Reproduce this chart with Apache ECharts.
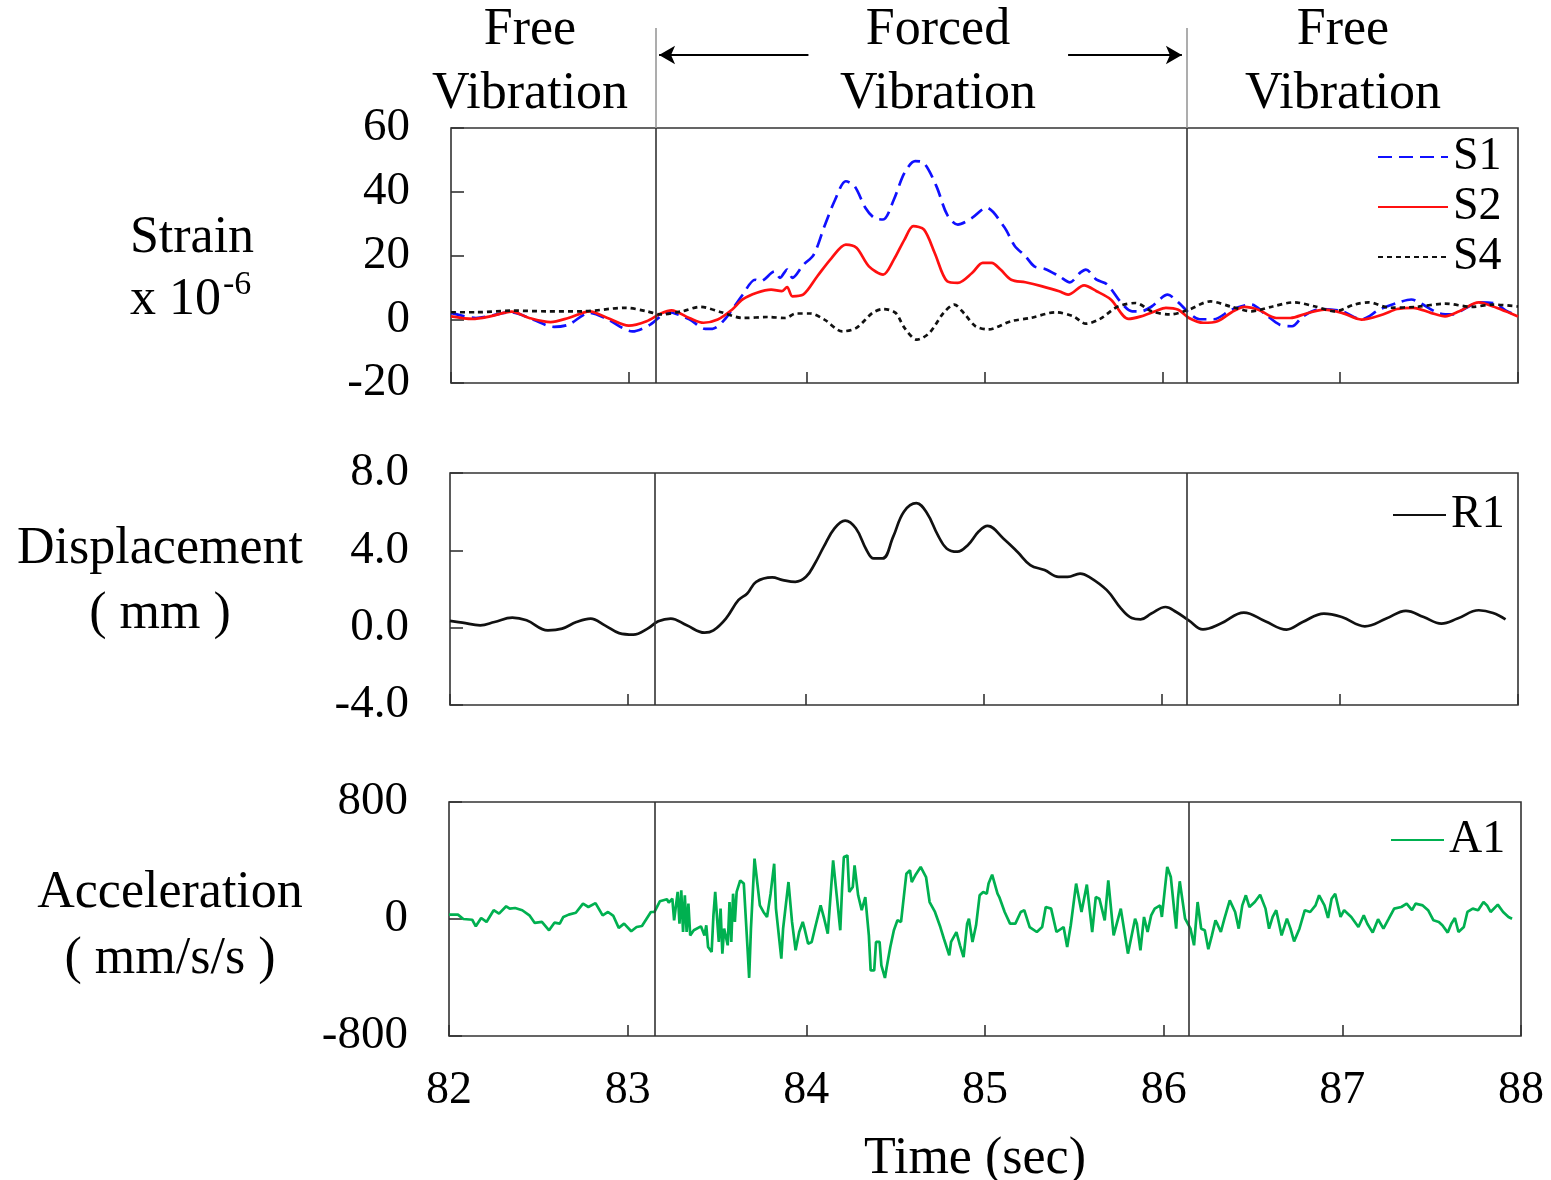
<!DOCTYPE html>
<html>
<head>
<meta charset="utf-8">
<script src="https://cdn.jsdelivr.net/npm/echarts@6/dist/echarts.min.js"></script>
<style>html,body{margin:0;padding:0;background:#fff}#c{width:1551px;height:1180px}</style>
</head>
<body>
<div id="c"></div>
<script>
// ---- data (time in sec, value) ----
const timeTicks = [82, 83, 84, 85, 86, 87, 88];
const boundaries = [83.15, 86.14];          // start / end of forced vibration
const arrowLeft = [84.01, 83.17];           // arrow from -> to (time)
const arrowRight = [85.47, 86.11];

const s1 = [[82.00,2.0],[82.14,0.4],[82.34,2.2],[82.46,-0.1],[82.58,-2.4],[82.66,-1.7],[82.78,2.0],[82.88,0],[83.02,-3.8],[83.12,-1.7],[83.22,2.2],[83.34,0],[83.43,-3.0],[83.47,-3.0],[83.54,0],[83.64,7.7],[83.71,12.4],[83.74,11.9],[83.82,15],[83.85,13],[83.89,15.6],[83.92,13],[83.98,17],[84.04,20.3],[84.10,29.2],[84.16,37.5],[84.22,43.3],[84.27,41.7],[84.33,35],[84.38,31.8],[84.43,31.3],[84.49,37.5],[84.55,45.9],[84.61,49.6],[84.66,49],[84.73,41.7],[84.79,32.8],[84.85,29.7],[84.93,31.8],[85.01,35],[85.11,29],[85.17,23],[85.23,19.8],[85.28,16.6],[85.34,15.8],[85.42,13.5],[85.48,11.6],[85.54,14.7],[85.57,15.6],[85.63,12.4],[85.69,10.9],[85.77,5.1],[85.83,2.5],[85.88,2.5],[85.94,4],[86.03,7.7],[86.09,5.3],[86.15,2],[86.21,0],[86.29,0],[86.39,3],[86.50,4.6],[86.58,1.5],[86.66,-1.7],[86.73,-2.2],[86.79,0.9],[86.89,3.2],[87.01,2.5],[87.12,0],[87.22,3],[87.32,5.1],[87.40,6.2],[87.45,5.1],[87.55,2],[87.63,1.5],[87.71,3.6],[87.78,5.3],[87.86,5.1],[87.93,2.8],[88.00,0.9]];

const s2 = [[82.00,0.9],[82.12,0.1],[82.22,0.9],[82.34,2.4],[82.44,0.4],[82.56,-0.9],[82.66,0.4],[82.78,2.5],[82.88,0.4],[83.00,-2],[83.10,-0.6],[83.18,1.8],[83.24,2.8],[83.34,0.4],[83.42,-1.1],[83.50,-0.1],[83.58,3],[83.64,6.2],[83.72,8.3],[83.80,9.3],[83.86,8.8],[83.89,10.1],[83.92,7.2],[83.98,7.7],[84.06,13.5],[84.14,19.2],[84.22,23.4],[84.28,22.4],[84.35,16.6],[84.43,14],[84.49,18.7],[84.55,25],[84.60,29.2],[84.66,28.1],[84.72,20.8],[84.79,11.9],[84.85,11.4],[84.93,14.5],[84.99,17.7],[85.04,17.7],[85.09,15.6],[85.15,12.4],[85.23,11.6],[85.32,10.4],[85.42,8.8],[85.47,7.7],[85.56,10.6],[85.63,8.8],[85.71,6.2],[85.81,0.1],[85.88,0.9],[85.96,2.5],[86.02,3.6],[86.09,3],[86.15,0.4],[86.23,-1.1],[86.31,-0.6],[86.39,2.2],[86.46,3.9],[86.54,3],[86.64,0.4],[86.72,0.4],[86.81,1.8],[86.91,3],[87.01,2],[87.12,-0.1],[87.24,1.5],[87.32,3.2],[87.41,3.6],[87.51,2],[87.59,0.9],[87.67,2.5],[87.78,5.3],[87.86,4],[87.93,2.5],[88.00,0.9]];

const s4 = [[82.00,2.2],[82.14,2.2],[82.34,2.7],[82.54,2.5],[82.74,2.5],[82.98,3.6],[83.10,2.5],[83.18,1.5],[83.30,2.5],[83.40,3.9],[83.52,2.2],[83.64,0.4],[83.78,0.7],[83.88,0.4],[83.94,1.8],[84.02,1.8],[84.10,-0.1],[84.20,-3.8],[84.28,-2.7],[84.37,2],[84.43,3.2],[84.50,2],[84.55,-2.7],[84.62,-6.4],[84.69,-4.3],[84.77,2],[84.83,4.6],[84.89,1.5],[84.95,-2.2],[85.02,-3.2],[85.15,-0.6],[85.26,0.4],[85.40,2.2],[85.50,0.9],[85.57,-1.4],[85.65,0.1],[85.75,4],[85.85,5.1],[85.94,2.5],[86.04,1.5],[86.14,2.8],[86.27,5.6],[86.39,3.9],[86.50,2.5],[86.62,4],[86.74,5.3],[86.86,4],[86.97,2.5],[87.08,4.6],[87.16,5.3],[87.28,3.6],[87.43,3.9],[87.59,4.9],[87.74,3.9],[87.86,4.6],[88.00,4]];

const r1 = [[82.00,0.35],[82.07,0.26],[82.17,0.12],[82.25,0.29],[82.35,0.52],[82.43,0.38],[82.55,-0.14],[82.63,-0.05],[82.71,0.29],[82.79,0.47],[82.87,0.12],[82.95,-0.28],[83.03,-0.36],[83.11,-0.05],[83.17,0.33],[83.24,0.47],[83.33,0.12],[83.43,-0.26],[83.48,-0.14],[83.55,0.47],[83.62,1.42],[83.67,1.77],[83.72,2.37],[83.81,2.6],[83.87,2.46],[83.94,2.37],[84.00,2.63],[84.05,3.32],[84.10,4.19],[84.16,5.14],[84.22,5.54],[84.28,5.14],[84.34,4.02],[84.38,3.58],[84.43,3.58],[84.49,4.71],[84.55,6.0],[84.62,6.44],[84.68,5.92],[84.74,4.8],[84.79,4.1],[84.85,3.93],[84.91,4.28],[84.97,4.97],[85.02,5.26],[85.11,4.6],[85.19,3.9],[85.26,3.24],[85.34,2.98],[85.42,2.63],[85.47,2.63],[85.54,2.8],[85.59,2.63],[85.69,1.94],[85.77,0.99],[85.83,0.5],[85.88,0.43],[85.94,0.73],[86.02,1.07],[86.08,0.81],[86.15,0.38],[86.23,-0.09],[86.33,0.21],[86.46,0.78],[86.58,0.33],[86.70,-0.1],[86.79,0.29],[86.91,0.73],[87.01,0.55],[87.14,0.07],[87.26,0.47],[87.37,0.87],[87.47,0.55],[87.57,0.21],[87.66,0.47],[87.78,0.9],[87.86,0.76],[87.93,0.43]];

const a1 = [[82.00,30],[82.05,30],[82.08,0],[82.13,-5],[82.15,-50],[82.18,7],[82.21,-20],[82.25,60],[82.28,37],[82.32,87],[82.34,71],[82.37,75],[82.41,60],[82.45,25],[82.48,-27],[82.52,-20],[82.56,-77],[82.59,-25],[82.62,-32],[82.64,14],[82.67,30],[82.71,43],[82.75,105],[82.78,82],[82.82,109],[82.86,25],[82.89,48],[82.92,21],[82.95,-61],[82.98,-32],[83.02,-84],[83.05,-55],[83.08,-48],[83.13,48],[83.15,48],[83.18,121],[83.22,135],[83.23,112],[83.25,139],[83.26,-9],[83.28,185],[83.29,-32],[83.30,196],[83.31,-89],[83.32,162],[83.33,-89],[83.34,105],[83.35,-112],[83.37,-77],[83.38,-66],[83.41,-50],[83.43,-112],[83.44,-43],[83.45,-191],[83.47,-226],[83.48,25],[83.49,185],[83.51,-157],[83.52,71],[83.53,-237],[83.54,-66],[83.56,-180],[83.57,116],[83.58,-157],[83.59,173],[83.60,-20],[83.61,185],[83.62,173],[83.63,264],[83.65,242],[83.67,-180],[83.68,-403],[83.69,-66],[83.71,413],[83.72,424],[83.74,93],[83.76,48],[83.78,14],[83.80,173],[83.82,378],[83.83,71],[83.86,-271],[83.87,-66],[83.90,253],[83.92,-20],[83.94,-214],[83.96,-89],[83.98,-20],[83.99,-66],[84.01,-169],[84.03,-157],[84.05,-55],[84.08,93],
[84.10,2],[84.12,-100],[84.13,-100],[84.15,401],[84.17,162],[84.19,-77],[84.20,207],[84.21,424],[84.23,435],[84.24,185],[84.26,219],[84.27,367],[84.29,162],[84.31,60],[84.33,150],[84.35,-112],[84.36,-351],[84.38,-351],[84.39,-157],[84.41,-157],[84.42,-317],[84.44,-403],[84.45,-328],[84.47,-191],[84.49,-77],[84.51,-9],[84.53,-20],[84.56,310],[84.58,333],[84.59,253],[84.61,299],[84.64,356],[84.67,287],[84.69,116],[84.72,48],[84.75,-55],[84.77,-135],[84.80,-248],[84.81,-157],[84.84,-89],[84.86,-180],[84.88,-260],[84.90,-32],[84.91,2],[84.93,-157],[84.95,-43],[84.97,162],[84.99,185],[85.01,173],[85.02,242],[85.04,303],[85.07,173],[85.08,150],[85.11,48],[85.14,-32],[85.17,-32],[85.20,48],[85.22,60],[85.25,-55],[85.29,-89],[85.32,-55],[85.34,82],[85.37,71],[85.40,-89],[85.44,-55],[85.46,-191],[85.48,-43],[85.51,242],[85.54,48],[85.57,235],[85.60,-89],[85.62,150],[85.64,139],[85.67,-9],[85.69,264],[85.72,-112],[85.76,71],[85.80,-237],[85.84,2],[85.85,-32],[85.87,-214],[85.89,14],[85.91,-89],[85.93,25],[85.95,71],[85.98,93],[85.99,14],[86.00,127],[86.02,356],[86.04,287],[86.06,48],[86.07,-66],[86.08,139],[86.09,258],
[86.12,2],[86.15,-66],[86.17,-180],[86.19,116],[86.21,-66],[86.23,-77],[86.25,-207],[86.27,-112],[86.29,-9],[86.30,-32],[86.32,-89],[86.34,2],[86.37,127],[86.40,48],[86.42,-66],[86.44,93],[86.46,162],[86.48,82],[86.51,116],[86.54,166],[86.57,71],[86.59,-66],[86.61,14],[86.63,60],[86.66,-112],[86.69,2],[86.71,-66],[86.73,-153],[86.76,-66],[86.79,60],[86.82,48],[86.85,93],[86.87,162],[86.90,93],[86.92,7],[86.94,139],[86.96,173],[86.99,14],[87.01,60],[87.05,14],[87.09,-55],[87.12,25],[87.14,-32],[87.17,-93],[87.20,-2],[87.23,-66],[87.26,2],[87.29,71],[87.33,82],[87.36,105],[87.39,60],[87.41,105],[87.45,93],[87.48,60],[87.51,-9],[87.54,-20],[87.56,-43],[87.59,-93],[87.61,-32],[87.63,7],[87.65,-89],[87.68,-55],[87.70,48],[87.73,71],[87.76,60],[87.79,116],[87.81,93],[87.83,48],[87.87,98],[87.90,48],[87.93,14],[87.95,2]];

// ---- chart ----
const FONT = '"Liberation Serif", "Times New Roman", serif';
const chart = echarts.init(document.getElementById('c'));

const frame = { show: true, borderColor: '#333', borderWidth: 1.6, backgroundColor: 'transparent', outerBoundsMode: 'none', containLabel: false };
function xAx(gi, showLabels) {
  return {
    type: 'value', gridIndex: gi, min: timeTicks[0], max: timeTicks[timeTicks.length - 1], interval: 1,
    axisLine: { show: false, onZero: false }, splitLine: { show: false },
    axisTick: { show: true, inside: true, length: 11, lineStyle: { color: '#333', width: 1.6 } },
    axisLabel: { show: showLabels, fontFamily: 'Liberation Serif', fontSize: 46, color: '#000', margin: 32 },
    name: showLabels ? 'Time (sec)' : '', nameLocation: 'middle', nameGap: 97,
    nameTextStyle: { fontFamily: 'Liberation Serif', fontSize: 52, color: '#000', padding: [0, 20, 0, 0] }
  };
}
function yAx(gi, min, max, interval, fmt) {
  return {
    type: 'value', gridIndex: gi, min: min, max: max, interval: interval,
    axisLine: { show: false, onZero: false }, splitLine: { show: false },
    axisTick: { show: true, inside: true, length: 13, lineStyle: { color: '#333', width: 1.6 } },
    axisLabel: { fontFamily: 'Liberation Serif', fontSize: 47, color: '#000', margin: 41, formatter: fmt }
  };
}
const bLine = (color) => ({
  silent: true, symbol: ['none', 'none'], label: { show: false },
  lineStyle: { color: color, width: 1.6, type: 'solid' }, emphasis: { disabled: true },
  data: boundaries.map(b => ({ xAxis: b }))
});
const legendBase = {
  orient: 'vertical', itemHeight: 14, padding: 0, selectedMode: false,
  itemStyle: { opacity: 0 },
  textStyle: { fontFamily: 'Liberation Serif', fontSize: 46, color: '#000' }
};

const option = {
  backgroundColor: '#fff',
  animation: false,
  grid: [
    { left: 451, top: 128, width: 1067, height: 255, ...frame },
    { left: 450, top: 473, width: 1068, height: 232, ...frame },
    { left: 449, top: 802, width: 1072, height: 234, ...frame },
    { left: 451, top: 28, width: 1067, height: 100, show: false, outerBoundsMode: 'none' }
  ],
  xAxis: [xAx(0, false), xAx(1, false), xAx(2, true),
    { type: 'value', gridIndex: 3, min: 82, max: 88, show: false }],
  yAxis: [
    yAx(0, -20, 60, 20, v => String(v)),
    yAx(1, -4, 8, 4, v => v.toFixed(1)),
    yAx(2, -800, 800, 800, v => String(v)),
    { type: 'value', gridIndex: 3, min: 0, max: 100, show: false }
  ],
  legend: [
    { ...legendBase, data: ['S1', 'S2', 'S4'], left: 1377, top: 134, itemWidth: 70, itemGap: 4 },
    { ...legendBase, data: ['R1'], left: 1392, top: 492, itemWidth: 53 },
    { ...legendBase, data: ['A1'], left: 1390, top: 817, itemWidth: 53 }
  ],
  series: [
    { name: 'S1', type: 'line', xAxisIndex: 0, yAxisIndex: 0, data: s1, symbol: 'none', smooth: 0.3,
      lineStyle: { color: '#1010ff', width: 2.7, type: [14, 7] }, itemStyle: { color: '#1010ff' },
      markLine: bLine('#333') },
    { name: 'S2', type: 'line', xAxisIndex: 0, yAxisIndex: 0, data: s2, symbol: 'none', smooth: 0.3,
      lineStyle: { color: '#ff1010', width: 2.7 }, itemStyle: { color: '#ff1010' } },
    { name: 'S4', type: 'line', xAxisIndex: 0, yAxisIndex: 0, data: s4, symbol: 'none', smooth: 0.3,
      lineStyle: { color: '#111', width: 2.7, type: [5, 4] }, itemStyle: { color: '#111' } },
    { name: 'R1', type: 'line', xAxisIndex: 1, yAxisIndex: 1, data: r1, symbol: 'none', smooth: 0.4,
      lineStyle: { color: '#111', width: 2.7 }, itemStyle: { color: '#111' }, markLine: bLine('#333') },
    { name: 'A1', type: 'line', xAxisIndex: 2, yAxisIndex: 2, data: a1, symbol: 'none',
      lineStyle: { color: '#00b050', width: 2.7 }, itemStyle: { color: '#00b050' }, markLine: bLine('#333') },
    { name: 'header', type: 'line', xAxisIndex: 3, yAxisIndex: 3, data: [], symbol: 'none',
      markLine: bLine('#999') },
    { name: 'arrows', type: 'line', xAxisIndex: 3, yAxisIndex: 3, data: [], symbol: 'none',
      markLine: {
        silent: true, symbol: ['none', 'arrow'], symbolSize: [14, 16], label: { show: false },
        lineStyle: { color: '#000', width: 2, type: 'solid' },
        data: [
          [{ coord: [arrowLeft[0], 73] }, { coord: [arrowLeft[1], 73] }],
          [{ coord: [arrowRight[0], 73] }, { coord: [arrowRight[1], 73] }]
        ]
      } }
  ],
  graphic: [
    { type: 'text', x: 530, y: 62, style: { text: 'Free\nVibration', font: '52px ' + FONT, fill: '#000', align: 'center', verticalAlign: 'middle', lineHeight: 64 } },
    { type: 'text', x: 938, y: 62, style: { text: 'Forced\nVibration', font: '52px ' + FONT, fill: '#000', align: 'center', verticalAlign: 'middle', lineHeight: 64 } },
    { type: 'text', x: 1343, y: 62, style: { text: 'Free\nVibration', font: '52px ' + FONT, fill: '#000', align: 'center', verticalAlign: 'middle', lineHeight: 64 } },
    { type: 'text', x: 192, y: 238, style: { text: 'Strain', font: '52px ' + FONT, fill: '#000', align: 'center', verticalAlign: 'middle' } },
    { type: 'text', x: 130, y: 300, style: { text: 'x 10', font: '52px ' + FONT, fill: '#000', align: 'left', verticalAlign: 'middle' } },
    { type: 'text', x: 223, y: 285, style: { text: '-6', font: '34px ' + FONT, fill: '#000', align: 'left', verticalAlign: 'middle' } },
    { type: 'text', x: 160, y: 549, style: { text: 'Displacement', font: '52px ' + FONT, fill: '#000', align: 'center', verticalAlign: 'middle' } },
    { type: 'text', x: 160, y: 614, style: { text: '( mm )', font: '52px ' + FONT, fill: '#000', align: 'center', verticalAlign: 'middle' } },
    { type: 'text', x: 170, y: 893, style: { text: 'Acceleration', font: '52px ' + FONT, fill: '#000', align: 'center', verticalAlign: 'middle' } },
    { type: 'text', x: 170, y: 959, style: { text: '( mm/s/s )', font: '52px ' + FONT, fill: '#000', align: 'center', verticalAlign: 'middle' } }
  ]
};
chart.setOption(option);
</script>
</body>
</html>
